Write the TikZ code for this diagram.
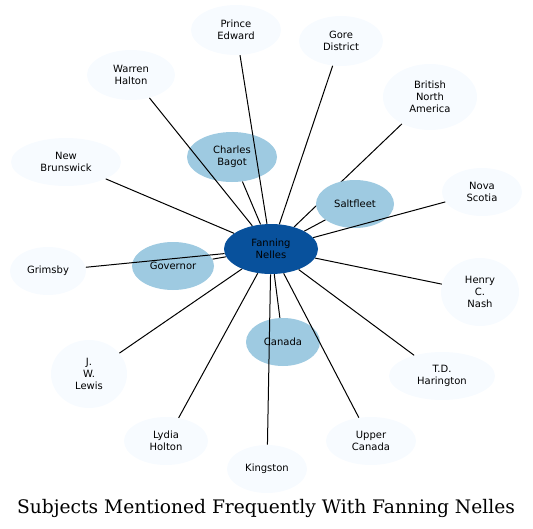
\documentclass[tikz,border=0pt]{standalone}
\usepackage{fontspec}
\setmainfont{DejaVu Sans}
\newfontfamily\titlefont{DejaVu Serif}
\usetikzlibrary{shapes.geometric,backgrounds}
\definecolor{hubblue}{HTML}{08519C}
\definecolor{midblue}{HTML}{9ECAE1}
\definecolor{leafblue}{HTML}{F7FBFF}

\begin{document}
\begin{tikzpicture}[x=0.75pt,y=-0.75pt,font=\fontsize{7.5}{9}\selectfont,
  topic/.style 2 args={ellipse,inner sep=0pt,align=center,fill=leafblue,
    minimum width=#1*0.75pt,minimum height=#2*0.75pt},
  link/.style={line width=0.75pt}]
\useasboundingbox (0,0) rectangle (533,529);
% hub and the four frequent subjects
\node[topic={94}{50},fill=hubblue] (nelles) at (271,249) {Fanning\\Nelles};
\node[topic={90}{50},fill=midblue] (bagot) at (232,157) {Charles\\Bagot};
\node[topic={78}{48},fill=midblue] (saltfleet) at (355,204) {Saltfleet};
\node[topic={82}{48},fill=midblue] (governor) at (173,266) {Governor};
\node[topic={74}{48},fill=midblue] (canada) at (283,342) {Canada};
% the rest
\node[topic={90}{50}] (prince) at (236,30) {Prince\\Edward};
\node[topic={84}{50}] (gore) at (341,41) {Gore\\District};
\node[topic={88}{50}] (warren) at (131,75) {Warren\\Halton};
\node[topic={94}{66}] (bna) at (430,97) {British\\North\\America};
\node[topic={110}{48}] (brunswick) at (66,162) {New\\Brunswick};
\node[topic={80}{48}] (nova) at (482,192) {Nova\\Scotia};
\node[topic={76}{48}] (grimsby) at (48,271) {Grimsby};
\node[topic={78}{68}] (nash) at (480,292) {Henry\\C.\\Nash};
\node[topic={76}{68}] (lewis) at (89,374) {J.\\W.\\Lewis};
\node[topic={106}{48}] (harington) at (442,376) {T.D.\\Harington};
\node[topic={84}{48}] (holton) at (166,441) {Lydia\\Holton};
\node[topic={80}{48}] (kingston) at (267,469) {Kingston};
\node[topic={90}{48}] (upper) at (371,441) {Upper\\Canada};
% links (the one to British North America runs under Saltfleet)
\begin{scope}[on background layer]
\draw[link] (nelles) -- (bna);
\end{scope}
\foreach \t in {bagot,saltfleet,governor,canada,prince,gore,warren,
  brunswick,nova,grimsby,nash,lewis,harington,holton,kingston,upper}
  \draw[link] (nelles) -- (\t);
\node[font=\titlefont\fontsize{14}{17}\selectfont] (title) at (266,508)
  {Subjects Mentioned Frequently With Fanning Nelles};
\end{tikzpicture}
\end{document}
